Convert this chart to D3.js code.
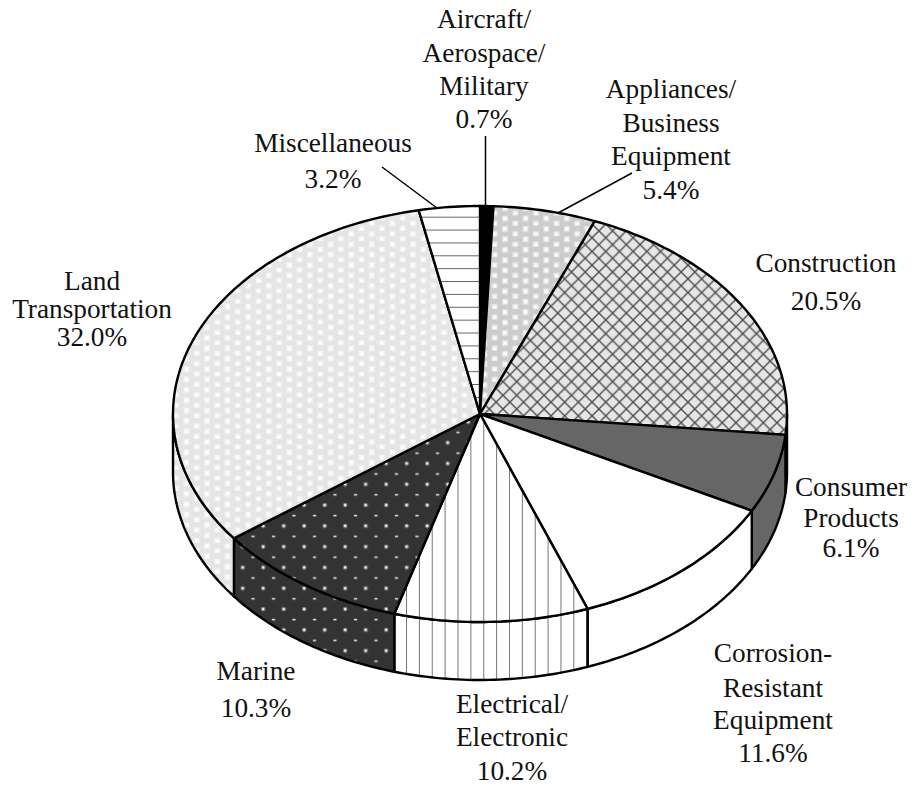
<!DOCTYPE html>
<html>
<head>
<meta charset="utf-8">
<script src="https://cdn.jsdelivr.net/npm/d3@7"></script>
<style>
  html, body { margin: 0; padding: 0; background: #fff; }
  text { font-family: "Liberation Serif", serif; font-size: 27.3px; fill: #111; }
</style>
</head>
<body>
<div id="chart"></div>
<script>
// DATA //
const categories = ["Aircraft", "Appliances", "Construction", "Consumer", "Corrosion", "Electrical", "Marine", "Land", "Miscellaneous"];
const shares = [0.7, 5.4, 20.5, 6.1, 11.6, 10.2, 10.3, 32.0, 3.2];
const labelLines = [
  ["Aircraft/", "Aerospace/", "Military", "0.7%"],
  ["Appliances/", "Business", "Equipment", "5.4%"],
  ["Construction", "20.5%"],
  ["Consumer", "Products", "6.1%"],
  ["Corrosion-", "Resistant", "Equipment", "11.6%"],
  ["Electrical/", "Electronic", "10.2%"],
  ["Marine", "10.3%"],
  ["Land", "Transportation", "32.0%"],
  ["Miscellaneous", "3.2%"]
];

// LAYOUT //
const width = 914, height = 787;
const cx = 480, cy = 414, rx = 307, ry = 208, depth = 58;

// where each label's lines sit (center x, baseline y of each line)
const labelX = [484, 671, 826, 851, 773, 512, 256, 92, 333];
const labelY = [
  [28, 61.5, 95, 128],
  [98, 132, 165, 199],
  [272, 310],
  [496, 527, 557],
  [662, 697, 729, 762],
  [713, 746, 780],
  [680, 717],
  [290, 318, 346],
  [152, 188]
];
const leaders = [
  [[485.5, 136], [485.5, 207]],
  [[632, 173], [558, 213]],
  [[382, 167], [437, 208]]
];

const svg = d3.select("#chart").append("svg")
  .attr("width", width)
  .attr("height", height)
  .style("display", "block");

// PATTERNS //
const defs = svg.append("defs");

function addPattern(id, x, y, w, h, bg) {
  const p = defs.append("pattern")
    .attr("id", id)
    .attr("patternUnits", "userSpaceOnUse")
    .attr("x", x).attr("y", y)
    .attr("width", w).attr("height", h);
  p.append("rect").attr("width", w).attr("height", h).attr("fill", bg);
  return p;
}

// soft white square, the scan of the halftone blurs them
function softDot(p, x, y) {
  [[3, 0.45], [2, 0.6], [1, 1]].forEach(d => {
    p.append("rect")
      .attr("x", x - d[0]).attr("y", y - d[0])
      .attr("width", d[0] * 2).attr("height", d[0] * 2)
      .attr("fill", "#fff")
      .attr("opacity", d[1]);
  });
}

function dotted(id, x, y, bg) {
  const p = addPattern(id, x - 3, y - 3, 20.6, 10.4, bg);
  softDot(p, 3, 3);
  softDot(p, 13.3, 8.2);
}

dotted("pat-appliances", 505, 239.3, "#cccccc");
dotted("pat-land", 310, 306.7, "#e5e5e5");

// crosshatch
const cross = addPattern("pat-construction", 640, 340.5, 13.7, 13.7, "#e6e6e6");
["M0,0L13.7,13.7", "M0,13.7L13.7,0"].forEach(d => {
  cross.append("path").attr("d", d).attr("stroke", "#4d4d4d").attr("stroke-width", 1.4);
});

// marine dots, rows alternate between round and flat
const marine = addPattern("pat-marine", 365.7 - 5, 484.3 - 5, 20.5, 20.8, "#333333");
marine.append("circle").attr("cx", 5).attr("cy", 5).attr("r", 2.4).attr("fill", "#fff").attr("opacity", 0.35);
marine.append("circle").attr("cx", 5).attr("cy", 5).attr("r", 1.2).attr("fill", "#fff").attr("opacity", 0.9);
marine.append("rect").attr("x", 13.7).attr("y", 14.7).attr("width", 3.2).attr("height", 1.6).attr("fill", "#fff").attr("opacity", 0.85);

const vert = addPattern("pat-electrical", 406, 0, 12.87, 20, "#fff");
vert.append("path").attr("d", "M0.5,0V20").attr("stroke", "#777").attr("stroke-width", 1);

const horiz = addPattern("pat-misc", 0, 216.7, 20, 12.87, "#fff");
horiz.append("path").attr("d", "M0,0.5H20").attr("stroke", "#666").attr("stroke-width", 1);

const fills = ["#000", "url(#pat-appliances)", "url(#pat-construction)", "#666666", "#fff",
  "url(#pat-electrical)", "url(#pat-marine)", "url(#pat-land)", "url(#pat-misc)"];

// PIE //
const pie = d3.pie().sort(null).value(d => d.share);
const slices = pie(categories.map((c, i) => ({ name: c, share: shares[i], i: i })));

// 0 is at the top, clockwise, squeezed into an ellipse
const px = a => cx + rx * Math.sin(a);
const py = a => cy - ry * Math.cos(a);
const line = d3.line();

function arcAngles(a0, a1) {
  const n = Math.max(2, Math.ceil((a1 - a0) / (Math.PI / 180)));
  return d3.range(n + 1).map(k => a0 + (a1 - a0) * k / n);
}

function topPath(d) {
  const pts = arcAngles(d.startAngle, d.endAngle).map(a => [px(a), py(a)]);
  return line([[cx, cy]].concat(pts)) + "Z";
}

// only the part facing the viewer has a wall
function wallPath(d) {
  const a0 = Math.max(d.startAngle, Math.PI / 2);
  const a1 = Math.min(d.endAngle, Math.PI * 1.5);
  if (a1 <= a0) return null;
  const angles = arcAngles(a0, a1);
  const upper = angles.map(a => [px(a), py(a)]);
  const lower = angles.slice().reverse().map(a => [px(a), py(a) + depth]);
  return line(upper.concat(lower)) + "Z";
}

// WALLS //
svg.append("g").selectAll("path")
  .data(slices.filter(d => wallPath(d)))
  .enter()
  .append("path")
  .attr("d", wallPath)
  .attr("fill", d => fills[d.data.i])
  .attr("stroke", "#000")
  .attr("stroke-width", 2.4)
  .attr("stroke-linejoin", "round");

// TOP FACE //
svg.append("g").selectAll("path")
  .data(slices)
  .enter()
  .append("path")
  .attr("d", topPath)
  .attr("fill", d => fills[d.data.i])
  .attr("stroke", "#000")
  .attr("stroke-width", 2.4)
  .attr("stroke-linejoin", "round");

// LEADERS //
svg.append("g").selectAll("path")
  .data(leaders)
  .enter()
  .append("path")
  .attr("d", d => line(d))
  .attr("stroke", "#000")
  .attr("stroke-width", 1.5)
  .attr("fill", "none");

// LABELS //
labelLines.forEach((lines, i) => {
  svg.append("g").selectAll("text")
    .data(lines)
    .enter()
    .append("text")
    .attr("text-anchor", "middle")
    .attr("x", labelX[i])
    .attr("y", (d, k) => labelY[i][k])
    .text(d => d);
});
</script>
</body>
</html>
